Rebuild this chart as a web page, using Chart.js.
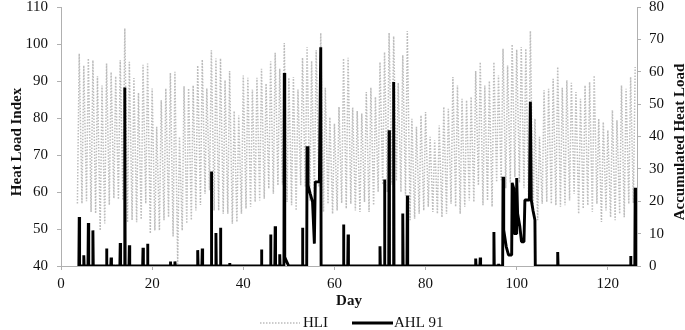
<!DOCTYPE html>
<html>
<head>
<meta charset="utf-8">
<script src="https://cdn.jsdelivr.net/npm/chart.js@4.4.0/dist/chart.umd.min.js"></script>
<style>
  html, body { margin: 0; padding: 0; background: #ffffff; }
  #wrap { width: 685px; height: 330px; position: relative; }
</style>
</head>
<body>
<div id="wrap"><canvas id="c" width="685" height="330"></canvas></div>
<script>
// ---------------- DATA ----------------
const hliFirstDay = 4; // HLI daily cycle starts on day 4, one entry per day up to day 126

// Daily maximum of the HLI (left axis)
const hliMax = [
  97.4, 94.2, 96.1, 95.6, 91.3, 88.8, 94.7, 92.4, 91.3, 95.6,
  104.2, 95.2, 90.8, 86.8, 94.4, 94.7, 88.0, 77.6, 84.8, 88.0,
  92.2, 92.5, 74.9, 88.6, 88.0, 88.8, 94.2, 95.8, 88.0, 98.3,
  96.1, 96.1, 90.2, 92.7, 81.9, 80.7, 91.5, 90.9, 87.7, 90.9,
  93.3, 89.3, 95.3, 97.6, 93.3, 100.3, 90.9, 91.1, 87.7, 96.3,
  99.2, 95.4, 98.3, 103.0, 88.2, 80.2, 78.5, 83.0, 96.1, 96.3,
  82.8, 81.9, 81.2, 87.0, 88.2, 85.7, 95.1, 97.8, 103.0, 102.1,
  89.5, 97.0, 103.5, 79.8, 77.6, 80.7, 81.6, 74.9, 74.0, 78.0,
  83.0, 82.5, 91.1, 88.8, 85.2, 84.8, 85.7, 92.7, 95.1, 88.8,
  90.0, 95.1, 91.5, 98.7, 94.2, 99.9, 98.5, 99.2, 98.7, 103.5,
  79.8, 74.9, 87.5, 87.9, 90.6, 93.8, 88.2, 90.2, 89.5, 87.0,
  85.2, 88.8, 89.7, 91.5, 79.8, 78.9, 76.7, 82.1, 79.4, 88.8,
  87.9, 91.1, 93.8
];

// Daily minimum of the HLI (left axis)
const hliMin = [
  56.9, 56.9, 57.5, 54.6, 54.2, 49.6, 51.5, 56.5, 58.3, 58.0,
  57.8, 51.8, 52.4, 51.8, 52.6, 56.9, 48.8, 49.6, 49.6, 52.4,
  53.2, 48.0, 40.6, 49.6, 51.5, 52.4, 55.0, 56.5, 59.5, 60.5,
  55.0, 55.0, 54.1, 54.1, 51.4, 51.9, 54.1, 55.5, 56.0, 57.3,
  57.7, 58.2, 60.9, 59.5, 61.8, 62.0, 57.3, 56.4, 55.0, 61.8,
  61.4, 57.7, 59.5, 61.4, 54.6, 56.8, 54.1, 55.0, 57.0, 55.5,
  56.8, 55.0, 54.6, 57.3, 54.6, 56.4, 60.0, 62.0, 60.0, 62.0,
  63.0, 60.0, 59.0, 52.4, 52.8, 54.1, 55.0, 56.0, 54.6, 54.1,
  53.2, 54.1, 56.8, 56.0, 54.1, 56.0, 57.7, 57.3, 61.8, 56.4,
  57.7, 56.0, 62.7, 63.2, 61.0, 62.5, 64.0, 62.5, 61.0, 57.7,
  54.1, 52.4, 56.8, 57.3, 56.8, 56.4, 56.0, 56.4, 57.7, 59.5,
  54.1, 55.5, 56.4, 54.6, 56.8, 51.9, 55.0, 53.2, 52.4, 54.1,
  53.2, 56.8, 57.0
];

// Accumulated heat load (right axis): non-zero vertices of the line
const ahlDays = [
  4, 5, 6, 7, 8, 10, 11, 12, 13, 14, 15, 18, 19, 24, 25, 30, 31, 33, 34, 35, 37,
  44, 46, 47, 48, 49, 49.1, 49.5, 49.9, 51, 53,
  54, 54.2, 54.7, 55.2, 55.6, 55.8, 56.3, 56.7, 57,
  62, 63, 70, 71, 72, 73, 75, 76, 91, 92, 95, 96,
  97, 97.15, 97.7, 98.2, 98.9, 99, 99.35, 99.45, 99.95, 100, 100.2, 100.7, 101.05, 101.6,
  101.8, 102.3, 102.8, 103, 103.2, 103.6, 104,
  109, 117, 125, 126
];
const ahlValues = [
  15.1, 3.3, 13.3, 11.0, 0.4, 5.4, 2.6, 0.3, 7.1, 55.1, 6.4, 5.6, 6.9, 1.4, 1.4, 4.9, 5.4, 29.2, 10.2, 11.8, 0.9,
  5.1, 9.7, 12.3, 3.6, 59.6, 2.8, 1.4, 0.2, 0.2, 11.8,
  37.0, 24.9, 22.3, 19.8, 6.9, 26.0, 26.0, 26.0, 67.6,
  12.8, 9.7, 6.1, 26.7, 41.9, 56.8, 16.2, 21.8, 2.3, 2.6, 10.5, 0.7,
  27.6, 11.1, 6.0, 3.4, 3.4, 25.7, 24.0, 10.0, 10.0, 27.2, 16.2, 12.1, 7.5, 7.5,
  20.4, 20.4, 20.4, 50.7, 20.4, 17.0, 14.2,
  4.3, 0.3, 3.1, 24.2
];

const xTickValues = [0, 20, 40, 60, 80, 100, 120];
const seriesNames = ['HLI', 'AHL 91'];
const axisTitles = { x: 'Day', left: 'Heat Load Index', right: 'Accumulated Heat Load' };

// ---------------- STYLE ----------------
const FONT = '"Liberation Serif", "Times New Roman", serif';
const textColor = '#111111';
const axisColor = '#b0b0b0';
const hliColor = '#bcbcbc';
const ahlColor = '#000000';

// ---------------- BUILD DATASETS ----------------
const hliPoints = [];
hliMax.forEach((mx, i) => {
  const day = hliFirstDay + i;
  hliPoints.push({ x: day - 0.4, y: hliMin[i] });
  hliPoints.push({ x: day, y: mx });
});

const ahlPoints = [];
const joinGap = 0.9, foot = 0.08;
for (let i = 0; i < ahlDays.length; i++) {
  const d = ahlDays[i];
  const prevNear = i > 0 && d - ahlDays[i - 1] < joinGap;
  const nextNear = i < ahlDays.length - 1 && ahlDays[i + 1] - d < joinGap;
  if (!prevNear) ahlPoints.push({ x: d - foot, y: 0 });
  ahlPoints.push({ x: d, y: ahlValues[i] });
  if (!nextNear) ahlPoints.push({ x: d + foot, y: 0 });
}

// ---------------- OVERLAY (rotated axis titles + legend) ----------------
const overlay = {
  id: 'overlay',
  afterDraw(chart) {
    const ctx = chart.ctx;
    const area = chart.chartArea;
    const midY = (area.top + area.bottom) / 2 + 5.5;
    ctx.save();
    ctx.fillStyle = textColor;
    ctx.font = 'bold 15px ' + FONT;
    ctx.textAlign = 'center';
    ctx.textBaseline = 'middle';
    ctx.save();
    ctx.translate(17, midY);
    ctx.rotate(-Math.PI / 2);
    ctx.fillText(axisTitles.left, 0, 0);
    ctx.restore();
    ctx.save();
    ctx.translate(680, midY);
    ctx.rotate(-Math.PI / 2);
    ctx.fillText(axisTitles.right, 0, 0);
    ctx.restore();

    // legend
    const ly = 323;
    const cx = (area.left + area.right) / 2;
    ctx.font = '15px ' + FONT;
    ctx.textAlign = 'left';
    ctx.strokeStyle = hliColor;
    ctx.lineWidth = 1.5;
    ctx.setLineDash([1.5, 1.5]);
    ctx.beginPath();
    ctx.moveTo(cx - 89, ly);
    ctx.lineTo(cx - 49, ly);
    ctx.stroke();
    ctx.fillText(seriesNames[0], cx - 46, ly);
    ctx.setLineDash([]);
    ctx.strokeStyle = ahlColor;
    ctx.lineWidth = 3;
    ctx.beginPath();
    ctx.moveTo(cx + 3, ly);
    ctx.lineTo(cx + 44, ly);
    ctx.stroke();
    ctx.fillText(seriesNames[1], cx + 45, ly);
    ctx.restore();
  }
};

// ---------------- CHART ----------------
const tickFont = { family: FONT, size: 15 };
new Chart(document.getElementById('c'), {
  type: 'line',
  data: {
    datasets: [
      {
        label: seriesNames[0],
        data: hliPoints,
        yAxisID: 'y',
        borderColor: hliColor,
        borderWidth: 1.5,
        borderDash: [1.5, 1.5],
        pointRadius: 0,
        tension: 0,
        fill: false,
        order: 1
      },
      {
        label: seriesNames[1],
        data: ahlPoints,
        yAxisID: 'y2',
        borderColor: ahlColor,
        borderWidth: 2.9,
        borderJoinStyle: 'bevel',
        pointRadius: 0,
        tension: 0,
        fill: false,
        order: 0
      }
    ]
  },
  options: {
    responsive: false,
    animation: false,
    devicePixelRatio: 1,
    layout: { padding: { top: 7, left: 0, right: 0, bottom: 0 } },
    plugins: { legend: { display: false }, tooltip: { enabled: false } },
    scales: {
      x: {
        type: 'linear',
        min: 0,
        max: 126.4,
        afterBuildTicks: s => { s.ticks = xTickValues.map(v => ({ value: v })); },
        afterFit: s => { s.height = 64; s.paddingLeft = 0; s.paddingRight = 0; },
        grid: { drawOnChartArea: false, drawTicks: true, tickLength: 4, color: axisColor },
        border: { color: axisColor, width: 1 },
        ticks: { padding: 5, font: tickFont, color: textColor, maxRotation: 0, autoSkip: false },
        title: { display: true, text: axisTitles.x, color: textColor,
                 font: { family: FONT, size: 15, weight: 'bold' }, padding: { top: 0, bottom: 20 } }
      },
      y: {
        position: 'left',
        min: 40,
        max: 110,
        afterFit: s => { s.width = 61; s.paddingTop = 0; s.paddingBottom = 0; },
        grid: { drawOnChartArea: false, drawTicks: true, tickLength: 4, color: axisColor },
        border: { color: axisColor, width: 1 },
        ticks: { stepSize: 10, padding: 9, font: tickFont, color: textColor }
      },
      y2: {
        position: 'right',
        min: 0,
        max: 80,
        afterFit: s => { s.width = 48; s.paddingTop = 0; s.paddingBottom = 0; },
        grid: { drawOnChartArea: false, drawTicks: true, tickLength: 4, color: axisColor },
        border: { color: axisColor, width: 1 },
        ticks: { stepSize: 10, padding: 8, font: tickFont, color: textColor }
      }
    }
  },
  plugins: [overlay]
});
</script>
</body>
</html>
